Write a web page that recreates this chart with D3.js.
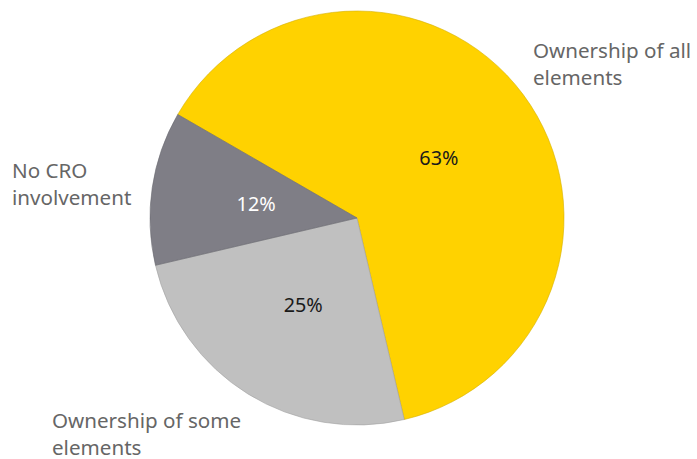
<!DOCTYPE html>
<html>
<head>
<meta charset="utf-8">
<script src="https://cdn.jsdelivr.net/npm/d3@7"></script>
<style>
  html, body { margin: 0; padding: 0; background: #fff; }
  svg { display: block; }
</style>
</head>
<body>
<svg id="chart" width="697" height="459"></svg>
<script>
// CRO ownership of risk elements
const categories = ["Ownership of all elements", "Ownership of some elements", "No CRO involvement"];
const values = [63, 25, 12];
const colors = ["#FFD200", "#C0C0C0", "#7F7E86"];
const valueColors = ["#1a1a1a", "#1a1a1a", "#ffffff"];
const labelLines = [["Ownership of all", "elements"], ["Ownership of some", "elements"], ["No CRO", "involvement"]];
const labelPos = [[533, 58], [52, 428], [12, 178]];

const svg = d3.select("#chart");
const cx = 357, cy = 218, r = 207;
const startAngle = -Math.PI / 3;

const pie = d3.pie().sort(null).value(d => d)
  .startAngle(startAngle).endAngle(startAngle + 2 * Math.PI);
const arcs = pie(values);
const arc = d3.arc().innerRadius(0).outerRadius(r);
const labelArc = d3.arc().innerRadius(102).outerRadius(102);

const g = svg.append("g").attr("transform", `translate(${cx},${cy})`);

g.selectAll("path.slice").data(arcs).enter().append("path")
  .attr("class", "slice")
  .attr("d", arc)
  .attr("fill", (d, i) => colors[i])
  .attr("stroke", (d, i) => d3.color(colors[i]).darker(0.5))
  .attr("stroke-width", 0.6);

g.selectAll("text.pct").data(arcs).enter().append("text")
  .attr("class", "pct")
  .attr("transform", d => `translate(${labelArc.centroid(d)})`)
  .attr("text-anchor", "middle")
  .attr("dominant-baseline", "central")
  .attr("font-family", "'Noto Sans', sans-serif")
  .attr("font-size", 19.8)
  .attr("fill", (d, i) => valueColors[i])
  .text(d => d.data + "%");

const lab = svg.selectAll("text.cat").data(categories).enter().append("text")
  .attr("class", "cat")
  .attr("x", (d, i) => labelPos[i][0])
  .attr("y", (d, i) => labelPos[i][1])
  .attr("font-family", "'Noto Sans', sans-serif")
  .attr("font-size", 20.6)
  .attr("fill", "#666666");
lab.each(function(d, i) {
  const t = d3.select(this);
  labelLines[i].forEach((line, j) => {
    t.append("tspan").attr("x", labelPos[i][0]).attr("dy", j === 0 ? 0 : 26.5).text(line);
  });
});
</script>
</body>
</html>
